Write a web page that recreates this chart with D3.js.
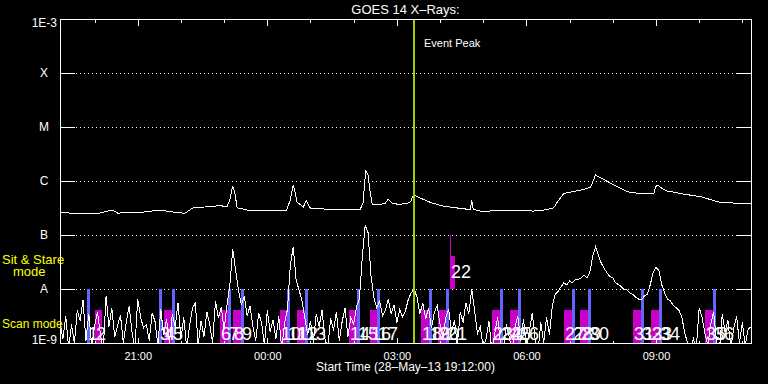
<!DOCTYPE html>
<html>
<head>
<meta charset="utf-8">
<title>GOES 14 X-Rays</title>
<script src="https://d3js.org/d3.v7.min.js"></script>
<style>
  html, body { margin: 0; padding: 0; background: #000; }
  svg { display: block; background: #000; }
  text { font-family: "Liberation Sans", Arial, sans-serif; fill: #fff; }
</style>
</head>
<body>
<svg width="768" height="384"></svg>
<script>
// time range of the plot
const startTime = "2013-05-28 19:12";
const endTime   = "2013-05-29 11:12";
const peakTime  = "2013-05-29 03:24";

// flare class levels
const levelFlux  = [1e-8, 1e-7, 1e-6, 1e-5, 1e-4];
const levelNames = ["A", "B", "C", "M", "X"];

// 1-8 A channel: minutes after start / flux in W/m^2
const longMin  = [0, 27, 55, 73, 80, 111, 139, 153, 166, 173, 185, 201, 222, 232, 236, 240, 243, 246, 260, 285,
                  315, 320, 324, 327, 329, 338, 342, 348, 375, 396, 417, 421, 424, 425, 428, 431, 434, 445, 452, 456,
                  462, 473, 483, 487, 491, 501, 515, 529, 549, 566, 570, 572, 574, 588, 612, 633, 658, 677, 686, 690,
                  696, 700, 724, 737, 742, 744, 751, 765, 789, 807, 825, 828, 831, 835, 842, 867, 891, 914, 937, 960];
const longFlux = [2.6e-7, 2.5e-7, 2.55e-7, 2.9e-7, 2.55e-7, 2.6e-7, 2.9e-7, 2.7e-7, 2.6e-7, 2.5e-7,
                  3.2e-7, 3.3e-7, 3.5e-7, 3.35e-7, 4.5e-7, 8.1e-7, 6.0e-7, 3.2e-7, 2.9e-7, 2.9e-7,
                  2.9e-7, 4.5e-7, 8.4e-7, 6.0e-7, 4.1e-7, 3.3e-7, 4.3e-7, 3.1e-7, 3.0e-7, 2.95e-7,
                  3.0e-7, 3.9e-7, 1.2e-6, 1.53e-6, 1.29e-6, 6.0e-7, 3.6e-7, 3.7e-7, 3.9e-7, 4.6e-7,
                  3.8e-7, 3.7e-7, 3.9e-7, 4.1e-7, 5.5e-7, 4.8e-7, 4.0e-7, 3.5e-7, 3.2e-7, 3.0e-7,
                  3.0e-7, 4.45e-7, 3.0e-7, 2.7e-7, 2.9e-7, 2.8e-7, 2.78e-7, 2.95e-7, 3.2e-7, 3.9e-7,
                  5.0e-7, 5.9e-7, 6.8e-7, 7.6e-7, 1.1e-6, 1.29e-6, 1.15e-6, 9.1e-7, 6.3e-7, 5.8e-7,
                  5.9e-7, 8.0e-7, 8.4e-7, 7.5e-7, 6.6e-7, 5.7e-7, 5.1e-7, 4.1e-7, 3.9e-7, 3.86e-7];

// 0.5-4 A channel: one sample every 4 minutes, in units of 1e-9 W/m^2
const shortStep = 4;
const shortFlux = [
  2.5, 1.2, 3.1, 0.8, 2.2, 1.0, 4.0, 2.6, 6.2, 1.1, 3.5, 0.9, 2.0, 3.8, 1.5, 0.7, 7.5, 2.0, 4.5, 1.3,
  2.1, 3.3, 1.0, 2.4, 4.8, 1.6, 0.8, 6.5, 3.0, 1.9, 2.2, 1.1, 3.6, 2.5, 0.9, 4.2, 1.4, 2.8, 1.0, 3.4,
  2.0, 5.5, 1.2, 3.0, 0.8, 2.1, 4.4, 5.5, 0.9, 2.6, 1.3, 3.8, 2.2, 1.0, 6.0, 2.9, 4.6, 1.8, 5.0, 12,
  55, 22, 9.5, 5.0, 7.5, 3.2, 4.8, 2.0, 1.1, 3.6, 2.4, 0.9, 4.0, 1.6, 2.7, 1.2, 3.1, 0.8, 2.3, 4.2,
  28, 60, 15, 9.6, 6.3, 3.0, 1.4, 2.6, 1.0, 3.5, 2.0, 4.1, 1.2, 0.8, 2.9, 1.7, 3.8, 1.1, 2.5, 4.4,
  1.3, 3.0, 2.2, 4.8, 6.5, 40, 150, 110, 18, 7.0, 4.5, 6.0, 3.2, 4.0, 6.5, 3.5, 5.0, 2.4, 4.2, 3.0,
  4.0, 6.5, 8.5, 10, 7.0, 3.5, 5.5, 2.8, 4.5, 1.9, 3.6, 5.0, 2.2, 1.2, 3.0, 4.2, 1.6, 2.7, 0.9, 3.8,
  2.4, 5.5, 3.5, 10, 4.0, 1.5, 2.0, 0.8, 1.2, 2.5, 0.7, 1.5, 3.0, 1.0, 0.8, 2.2, 1.3, 0.7, 1.9, 3.2,
  1.1, 2.8, 0.8, 1.6, 3.6, 1.2, 0.7, 2.4, 1.0, 3.0, 1.4, 5.0, 8.0, 9.0, 11, 13, 12, 14, 13, 15,
  15, 16, 18, 16, 20, 40, 60, 42, 30, 24, 20, 17, 16, 13, 12, 11, 9.6, 9.6, 8.4, 8.0,
  7.0, 6.5, 6.3, 7.5, 8.0, 12, 20, 25, 22, 12, 8.4, 6.5, 6.0, 5.0, 4.5, 4.0, 3.0, 1.5, 1.0, 0.8,
  1.2, 0.8, 4.5, 3.0, 1.5, 0.9, 2.2, 3.8, 1.1, 0.7, 3.4, 1.6, 2.6, 0.8, 1.9, 3.1, 1.0, 2.4, 0.9, 1.8, 2.0
];

// observing events (b = blue mark, m = scan mode, s = sit & stare)
const eventTimes = ["19:49", "20:00", "21:29", "21:37", "21:48", "22:54", "23:05", "23:12", "23:23", "00:17",
                    "00:28", "00:41", "00:52", "01:54", "02:05", "02:22", "02:33", "03:33", "03:44", "03:57",
                    "04:08", "04:14", "05:12", "05:23", "05:37", "05:48", "06:52", "07:03", "07:15", "07:26",
                    "08:28", "08:39", "08:53", "09:04", "10:08", "10:19"];
const eventKind  = ["b", "m", "b", "m", "b", "m", "b", "m", "b", "m",
                    "b", "m", "b", "m", "b", "m", "b", "m", "b", "m",
                    "b", "s", "m", "b", "m", "b", "m", "b", "m", "b",
                    "m", "b", "m", "b", "m", "b"];
const kindMinutes = { b: 4, m: 11, s: 7 };

const svg = d3.select("svg");
const L = 60, R = 751, T = 19, B = 343;

const parse = d3.timeParse("%Y-%m-%d %H:%M");
const t0 = parse(startTime), t1 = parse(endTime);
const x = d3.scaleTime().domain([t0, t1]).range([L, R]);
const y = d3.scaleLog().domain([1e-9, 1e-3]).range([B, T]);

const atMin = k => new Date(+t0 + k * 60000);
const clock = s => {
  const [h, mm] = s.split(":").map(Number);
  const d = new Date(+t0);
  if (h < 19) d.setDate(d.getDate() + 1);
  d.setHours(h, mm, 0, 0);
  return d;
};

svg.append("defs").append("clipPath").attr("id", "plot")
  .append("rect").attr("x", L).attr("y", T).attr("width", R - L).attr("height", B - T);

// dotted class levels with solid end ticks
const grid = svg.append("g").attr("shape-rendering", "crispEdges");
levelFlux.forEach(f => {
  const yy = Math.round(y(f)) + 0.5;
  grid.append("line").attr("x1", L).attr("x2", R).attr("y1", yy).attr("y2", yy)
    .attr("stroke", "#fff").attr("stroke-dasharray", "1,3");
  grid.append("line").attr("x1", L).attr("x2", L + 15).attr("y1", yy).attr("y2", yy).attr("stroke", "#fff");
  grid.append("line").attr("x1", R - 15).attr("x2", R).attr("y1", yy).attr("y2", yy).attr("stroke", "#fff");
});

// event bars
const rows = {
  b: [1e-9, 1e-8],
  m: [1e-9, 4.1e-9],
  s: [1e-8, 4.1e-8]
};
const colors = { b: "#6464ff", m: "#c800c8", s: "#c800c8" };
const events = eventTimes.map((s, i) => {
  const t = clock(s), k = eventKind[i];
  const xa = Math.round(x(t));
  const xb = Math.round(x(new Date(+t + kindMinutes[k] * 60000)));
  return { n: i + 1, k, xa, w: Math.max(3, xb - xa) };
});

const bars = svg.append("g").attr("shape-rendering", "crispEdges");
bars.selectAll("rect").data(events).join("rect")
  .attr("x", d => d.xa)
  .attr("width", d => d.w)
  .attr("y", d => Math.round(y(rows[d.k][1])))
  .attr("height", d => Math.round(y(rows[d.k][0])) - Math.round(y(rows[d.k][1])))
  .attr("fill", d => colors[d.k]);
events.filter(d => d.k === "s").forEach(d => {
  bars.append("line").attr("x1", d.xa + 0.5).attr("x2", d.xa + 0.5)
    .attr("y1", y(1e-7)).attr("y2", y(rows.s[1]))
    .attr("stroke", colors.s);
});

// light curves
const curves = svg.append("g").attr("clip-path", "url(#plot)");
const line = d3.line().x(d => x(d[0])).y(d => y(d[1]));
curves.append("path")
  .datum(longMin.map((m, i) => [atMin(m), longFlux[i]]))
  .attr("d", line).attr("fill", "none").attr("stroke", "#fff").attr("stroke-width", 1)
  .attr("shape-rendering", "crispEdges");
curves.append("path")
  .datum(shortFlux.map((v, i) => [atMin(i * shortStep), v * 1e-9]))
  .attr("d", line).attr("fill", "none").attr("stroke", "#fff").attr("stroke-width", 1)
  .attr("shape-rendering", "crispEdges");

// event numbers
svg.append("g").selectAll("text").data(events).join("text")
  .attr("x", d => d.xa + 1)
  .attr("y", d => d.k === "s" ? 278 : 340)
  .attr("font-size", 18)
  .text(d => d.n);

// event peak
const xp = Math.round(x(parse(peakTime)));
svg.append("line").attr("x1", xp).attr("x2", xp).attr("y1", T).attr("y2", B)
  .attr("stroke", "#a0d200").attr("stroke-width", 2);
svg.append("text").attr("x", xp + 10).attr("y", 47).attr("font-size", 11).text("Event Peak");

// frame
svg.append("rect").attr("x", L + 0.5).attr("y", T + 0.5).attr("width", R - L).attr("height", B - T)
  .attr("fill", "none").attr("stroke", "#fff").attr("shape-rendering", "crispEdges");

// time axes (ticks pointing inward)
const hours = d3.timeHour.every(1).range(t0, t1);
const major = hours.filter(d => d.getHours() % 3 === 0);
const minor = hours.filter(d => d.getHours() % 3 !== 0);
const fmt = d3.timeFormat("%H:%M");

function timeAxis(gen, yPos, ticks, size, labels) {
  const g = svg.append("g").attr("transform", `translate(0,${yPos})`)
    .call(gen(x).tickValues(ticks).tickSize(-size).tickPadding(9)
      .tickFormat(labels ? fmt : () => ""));
  g.select(".domain").remove();
  g.selectAll("line").attr("stroke", "#fff").attr("shape-rendering", "crispEdges");
  g.selectAll("text").attr("fill", "#fff").attr("font-size", 11)
    .attr("font-family", '"Liberation Sans", Arial, sans-serif');
  return g;
}
timeAxis(d3.axisBottom, B + 0.5, minor, 3, false);
timeAxis(d3.axisBottom, B + 0.5, major, 6, true);
timeAxis(d3.axisTop, T + 0.5, minor, 3, false);
timeAxis(d3.axisTop, T + 0.5, major, 6, false);

// level labels
const ylab = svg.append("g").attr("font-size", 12);
levelFlux.forEach((f, i) => {
  ylab.append("text").attr("x", 44).attr("y", y(f)).attr("dy", "0.36em")
    .attr("text-anchor", "middle").text(levelNames[i]);
});
ylab.append("text").attr("x", 57).attr("y", y(1e-3) + 4).attr("dy", "0.36em")
  .attr("text-anchor", "end").text("1E-3");
ylab.append("text").attr("x", 57).attr("y", y(1e-9) - 3).attr("dy", "0.36em")
  .attr("text-anchor", "end").text("1E-9");

// mode labels
const modes = svg.append("g").attr("font-size", 13);
modes.append("text").attr("x", 2).attr("y", 259).attr("dy", "0.36em").style("fill", "#ff0").text("Sit & Stare");
modes.append("text").attr("x", 13).attr("y", 271).attr("dy", "0.36em").style("fill", "#ff0").text("mode");
modes.append("text").attr("x", 2).attr("y", 324).attr("dy", "0.36em").style("fill", "#ff0")
  .attr("font-size", 12).text("Scan mode");

// titles
svg.append("text").attr("x", (L + R) / 2).attr("y", 9).attr("dy", "0.36em")
  .attr("text-anchor", "middle").attr("font-size", 13).text("GOES 14 X\u2013Rays:");
svg.append("text").attr("x", (L + R) / 2).attr("y", 367).attr("dy", "0.36em")
  .attr("text-anchor", "middle").attr("font-size", 12).text("Start Time (28\u2013May\u201313 19:12:00)");
</script>
</body>
</html>
